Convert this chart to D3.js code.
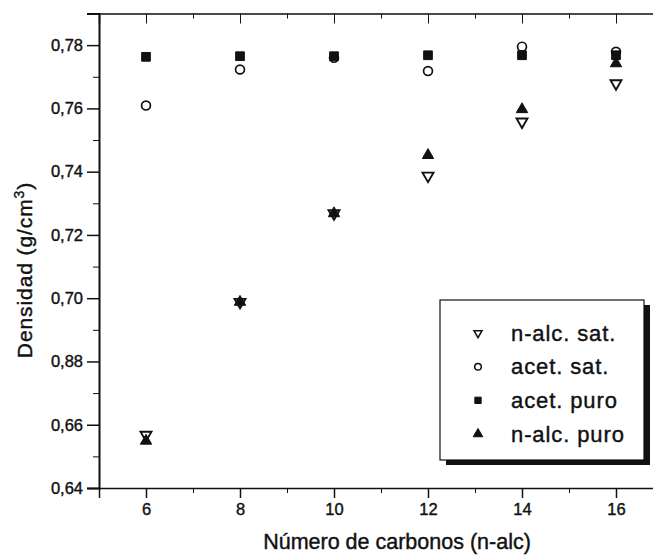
<!DOCTYPE html>
<html>
<head>
<meta charset="utf-8">
<script src="https://cdn.jsdelivr.net/npm/d3@7"></script>
<style>
  html, body { margin: 0; padding: 0; background: #fff; }
  svg { display: block; font-family: "Liberation Sans", Arial, sans-serif; }
  .axis path, .axis line { stroke: #111; }
  .axis text { fill: #111; font-size: 16.5px; stroke: #111; stroke-width: 0.4px; }
  .heavy { stroke: #111; stroke-width: 0.4px; }
</style>
</head>
<body>
<svg id="chart" width="653" height="558"></svg>
<script>
// Data
const carbonos = [6, 8, 10, 12, 14, 16];
const nAlcSat  = [0.6568, 0.6988, 0.7268, 0.7387, 0.7558, 0.7679];
const acetSat  = [0.7609, 0.7723, 0.7760, 0.7718, 0.7795, 0.7779];
const acetPuro = [0.7763, 0.7765, 0.7765, 0.7768, 0.7768, 0.7768];
const nAlcPuro = [0.6549, 0.6988, 0.7268, 0.7452, 0.7597, 0.7742];

const xTicks = [6, 8, 10, 12, 14, 16];
const xMinorTicks = [5, 7, 9, 11, 13, 15, 17];
const yTicks = [0.64, 0.66, 0.68, 0.70, 0.72, 0.74, 0.76, 0.78];
const yTickLabels = ['0,64', '0,66', '0,88', '0,70', '0,72', '0,74', '0,76', '0,78'];
const yMinorTicks = [0.65, 0.67, 0.69, 0.71, 0.73, 0.75, 0.77, 0.79];

const seriesNames = ['n-alc. sat.', 'acet. sat.', 'acet. puro', 'n-alc. puro'];

const svg = d3.select('#chart');

// Plot frame (right edge runs past the window like in the scan)
const plotLeft = 99, plotRight = 663, plotTop = 13.5, plotBottom = 488;

const x = d3.scaleLinear().domain([5, 17]).range([plotLeft, plotRight]);
const y = d3.scaleLinear().domain([0.64, 0.79]).range([plotBottom, plotTop]);

// Bottom axis: outward ticks
svg.append('g')
  .attr('class', 'axis')
  .attr('transform', `translate(0,${plotBottom})`)
  .call(d3.axisBottom(x).tickValues(xTicks).tickSize(10).tickPadding(5).tickFormat(d3.format('d')))
  .call(g => g.select('.domain').attr('stroke-width', 1.5))
  .call(g => g.selectAll('line').attr('stroke-width', 1.5));
svg.append('g')
  .attr('class', 'axis')
  .attr('transform', `translate(0,${plotBottom})`)
  .call(d3.axisBottom(x).tickValues(xMinorTicks).tickSize(5).tickFormat(''))
  .call(g => g.select('.domain').remove());

// Top axis: inward ticks, no labels
svg.append('g')
  .attr('class', 'axis')
  .attr('transform', `translate(0,${plotTop})`)
  .call(d3.axisTop(x).tickValues(xTicks).tickSize(-10).tickFormat(''))
  .call(g => g.select('.domain').attr('stroke-width', 1.5));
svg.append('g')
  .attr('class', 'axis')
  .attr('transform', `translate(0,${plotTop})`)
  .call(d3.axisTop(x).tickValues(xMinorTicks).tickSize(-5).tickFormat(''))
  .call(g => g.select('.domain').remove());

// Left axis: outward ticks with comma decimals
svg.append('g')
  .attr('class', 'axis')
  .attr('transform', `translate(${plotLeft},0)`)
  .call(d3.axisLeft(y).tickValues(yTicks).tickSize(12).tickPadding(4)
    .tickFormat((d, i) => yTickLabels[i]))
  .call(g => g.select('.domain').attr('stroke-width', 2))
  .call(g => g.selectAll('line').attr('stroke-width', 1.5));
svg.append('g')
  .attr('class', 'axis')
  .attr('transform', `translate(${plotLeft},0)`)
  .call(d3.axisLeft(y).tickValues(yMinorTicks).tickSize(6).tickFormat(''))
  .call(g => g.select('.domain').remove());

// Right axis: inward ticks
svg.append('g')
  .attr('class', 'axis')
  .attr('transform', `translate(${plotRight},0)`)
  .call(d3.axisRight(y).tickValues(yTicks).tickSize(-10).tickFormat(''))
  .call(g => g.select('.domain').attr('stroke-width', 1.5));

// Markers
const sym = (type, size) => d3.symbol().type(type).size(size)();
const markers = [
  { values: nAlcSat,  path: sym(d3.symbolTriangle, 52), rotate: 180, fill: '#fff', stroke: '#111', sw: 1.9 },
  { values: acetSat,  path: sym(d3.symbolCircle, 62),   rotate: 0,   fill: '#fff', stroke: '#111', sw: 1.7 },
  { values: acetPuro, path: sym(d3.symbolSquare, 76),   rotate: 0,   fill: '#111', stroke: '#111', sw: 1 },
  { values: nAlcPuro, path: sym(d3.symbolTriangle, 56), rotate: 0,   fill: '#111', stroke: '#111', sw: 1 }
];

markers.forEach(m => {
  svg.append('g')
    .selectAll('path')
    .data(carbonos.map((c, i) => ({ c, v: m.values[i] })))
    .enter()
    .append('path')
    .attr('d', m.path)
    .attr('transform', d => `translate(${x(d.c)},${y(d.v)}) rotate(${m.rotate})`)
    .attr('fill', m.fill)
    .attr('stroke', m.stroke)
    .attr('stroke-width', m.sw);
});

// Legend with drop shadow
const lgX = 440, lgY = 300, lgW = 204, lgH = 160;
const legend = svg.append('g').attr('transform', `translate(${lgX},${lgY})`);
legend.append('rect')
  .attr('x', 6).attr('y', 5)
  .attr('width', lgW).attr('height', lgH)
  .attr('fill', '#111');
legend.append('rect')
  .attr('width', lgW).attr('height', lgH)
  .attr('fill', '#fff')
  .attr('stroke', '#111')
  .attr('stroke-width', 1.2);

const legendSymbols = [
  { path: sym(d3.symbolTriangle, 28), rotate: 180, fill: '#fff', sw: 1.5 },
  { path: sym(d3.symbolCircle, 34),   rotate: 0,   fill: '#fff', sw: 1.5 },
  { path: sym(d3.symbolSquare, 40),   rotate: 0,   fill: '#111', sw: 1 },
  { path: sym(d3.symbolTriangle, 40), rotate: 0,   fill: '#111', sw: 1 }
];
const rowY = d3.scalePoint().domain(seriesNames).range([33, 134]);

seriesNames.forEach((name, i) => {
  const s = legendSymbols[i];
  legend.append('path')
    .attr('d', s.path)
    .attr('transform', `translate(38,${rowY(name)}) rotate(${s.rotate})`)
    .attr('fill', s.fill)
    .attr('stroke', '#111')
    .attr('stroke-width', s.sw);
  legend.append('text')
    .attr('class', 'heavy')
    .attr('x', 71)
    .attr('y', rowY(name) + 7.5)
    .attr('font-size', 22)
    .attr('letter-spacing', 0.9)
    .attr('fill', '#111')
    .text(name);
});

// Axis titles
svg.append('text')
  .attr('class', 'heavy')
  .attr('x', 397)
  .attr('y', 549)
  .attr('text-anchor', 'middle')
  .attr('font-size', 21.5)
  .attr('fill', '#111')
  .text('Número de carbonos (n-alc)');

const yTitle = svg.append('text')
  .attr('class', 'heavy')
  .attr('transform', 'translate(32,270) rotate(-90)')
  .attr('text-anchor', 'middle')
  .attr('font-size', 21)
  .attr('letter-spacing', 0.9)
  .attr('fill', '#111');
yTitle.append('tspan').text('Densidad (g/cm');
yTitle.append('tspan').attr('font-size', 14).attr('dy', -8).text('3');
yTitle.append('tspan').attr('dy', 8).text(')');
</script>
</body>
</html>
